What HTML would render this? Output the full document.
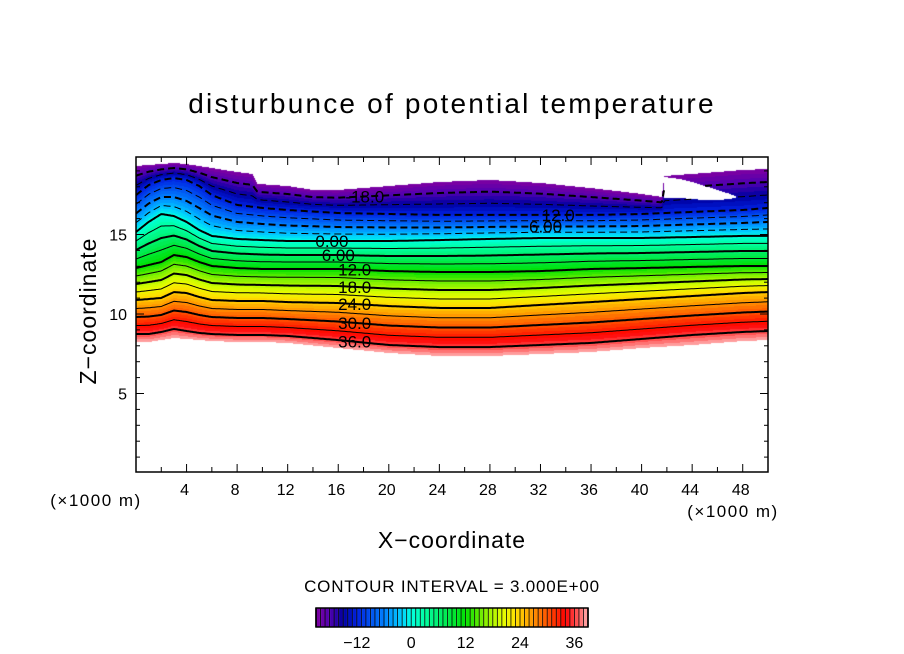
<!DOCTYPE html>
<html><head><meta charset="utf-8">
<style>
html,body{margin:0;padding:0;background:#fff;}
#wrap{position:relative;width:904px;height:654px;overflow:hidden;font-family:"Liberation Sans",sans-serif;}
canvas{position:absolute;left:0;top:0;}
svg{position:absolute;left:0;top:0;}
</style></head>
<body>
<div id="wrap">
<canvas id="fill" width="904" height="654"></canvas>
<svg id="svg" width="904" height="654"></svg>
</div>
<script>
// ---- data (x in km, z in km) ----
const xs = [0,1,2,3,4,5,6,8,10,12,16,20,24,28,32,36,40,44,48,50];
const levels = [39,36,24,12,0,-12];
const z39 = [8.24,8.24,8.36,8.49,8.43,8.36,8.30,8.24,8.24,8.18,7.86,7.55,7.36,7.36,7.48,7.61,7.86,8.05,8.30,8.36];
const z36 = [8.74,8.74,8.87,9.06,8.93,8.81,8.74,8.68,8.68,8.62,8.36,8.05,7.92,7.92,8.05,8.18,8.43,8.68,8.87,8.93];
const z24 = [10.88,10.94,11.01,11.38,11.32,11.07,10.88,10.82,10.82,10.75,10.69,10.50,10.38,10.38,10.57,10.75,10.94,11.13,11.32,11.38];
const z12 = [12.89,13.08,13.27,13.71,13.58,13.27,13.02,12.89,12.83,12.83,12.83,12.70,12.64,12.64,12.70,12.83,12.89,12.96,13.02,13.02];
const z0 = [15.16,15.79,16.29,16.16,15.79,15.28,14.91,14.72,14.65,14.59,14.59,14.59,14.65,14.72,14.78,14.78,14.78,14.84,14.91,14.91];
const zm12 = [17.48,18.11,18.43,18.55,18.43,18.05,17.48,16.86,16.67,16.54,16.35,16.29,16.23,16.23,16.23,16.23,16.29,16.42,16.54,16.67];
const topValue = -21;
const topXs = [0,1,2,3,4,5,6,8,9.2,9.6,12,14,16,20,24,28,32,36,40,41.6,41.8,44,46,48,50];
const topZ = [19.31,19.37,19.43,19.50,19.43,19.31,19.18,18.93,18.81,18.18,18.05,17.80,17.80,18.05,18.30,18.43,18.24,17.92,17.55,17.36,18.68,18.81,18.93,19.06,19.12];
const notchXs = [41.8,43,44,45,46,47,47.6];
const notchTop = [18.62,18.49,18.30,18.05,17.80,17.55,17.36];
const notchBot = [17.30,17.30,17.23,17.17,17.17,17.23,17.36];
const xTicks = [4,8,12,16,20,24,28,32,36,40,44,48];
const yTicks = [5,10,15];
const cbTicks = [-12,0,12,24,36];
const contourLabels = [[0,15.5,"0.00"],[6,16.0,"6.00"],[12,17.3,"12.0"],[18,17.3,"18.0"],[24,17.3,"24.0"],[30,17.3,"30.0"],[36,17.3,"36.0"],[-18,18.1,"-18.0"],[-12,33.4,"12.0"],[-6,32.4,"6.00"]];

// ---- axes ----
const PX0=136,PX1=768,PY0=157,PY1=472,XMAX=50;
const sx = x => PX0 + x*(PX1-PX0)/XMAX;
const sy = z => 473 - z*15.9;
const CB0=316,CB1=588,VMIN=-21,VMAX=39;
const cbx = v => CB0 + (v-VMIN)*(CB1-CB0)/(VMAX-VMIN);

function interp(arrX, arrY, x){
  if(x<=arrX[0]) return arrY[0];
  for(let i=1;i<arrX.length;i++){ if(x<=arrX[i]){ const t=(x-arrX[i-1])/(arrX[i]-arrX[i-1]); return arrY[i-1]+t*(arrY[i]-arrY[i-1]); } }
  return arrY[arrY.length-1];
}
const zArrs=[z39,z36,z24,z12,z0,zm12];
function column(x){
  const zs = zArrs.map(a=>interp(xs,a,x));
  const zt = interp(topXs,topZ,x);
  return {zs, zt, vals: levels.concat([topValue]), zall: zs.concat([zt])};
}
function inNotch(x,z){
  if(x<notchXs[0]||x>notchXs[notchXs.length-1]) return false;
  return z<interp(notchXs,notchTop,x) && z>interp(notchXs,notchBot,x);
}
function valueAt(col,z){
  const za=col.zall, va=col.vals;
  if(z<za[0]||z>za[za.length-1]) return null;
  for(let i=1;i<za.length;i++){ if(z<=za[i]){ const t=(z-za[i-1])/(za[i]-za[i-1]); return va[i-1]+t*(va[i]-va[i-1]); } }
  return null;
}
function zOf(col,v){
  const za=col.zall, va=col.vals;
  for(let i=1;i<za.length;i++){ if((v<=va[i-1]&&v>=va[i])){ const t=(va[i-1]-v)/(va[i-1]-va[i]); return za[i-1]+t*(za[i]-za[i-1]); } }
  return null;
}
const stops=[[-21,[128,0,160]],[-18,[80,0,176]],[-15,[0,0,160]],[-12,[0,32,224]],[-6,[0,128,255]],[-2,[0,208,255]],[0,[0,255,224]],[3,[0,255,160]],[6,[0,240,112]],[12,[0,224,0]],[16,[128,240,0]],[20,[224,255,0]],[23,[255,224,0]],[27,[255,144,0]],[31,[255,64,0]],[34,[255,0,0]],[37,[255,96,96]],[39,[255,176,176]]];
function color(v){
  v=Math.floor(v)+0.5; if(v<stops[0][0]) v=stops[0][0];
  for(let i=1;i<stops.length;i++){ if(v<=stops[i][0]){ const t=(v-stops[i-1][0])/(stops[i][0]-stops[i-1][0]); const a=stops[i-1][1],b=stops[i][1]; return [0,1,2].map(k=>Math.round(a[k]+t*(b[k]-a[k]))); } }
  return stops[stops.length-1][1];
}
// ---- fill ----
const ctx=document.getElementById('fill').getContext('2d');
const img=ctx.createImageData(PX1-PX0,PY1-PY0);
for(let px=0;px<PX1-PX0;px++){
  const x=(px+0.5)*XMAX/(PX1-PX0); const col=column(x);
  for(let py=0;py<PY1-PY0;py++){
    const z=(473-(PY0+py+0.5))/15.9;
    if(inNotch(x,z)) continue;
    const v=valueAt(col,z); if(v===null) continue;
    const c=color(v); const o=(py*(PX1-PX0)+px)*4;
    img.data[o]=c[0];img.data[o+1]=c[1];img.data[o+2]=c[2];img.data[o+3]=255;
  }
}
ctx.putImageData(img,PX0,PY0);
for(let v=VMIN; v<VMAX; v++){
  const c=color(v);
  ctx.fillStyle=`rgb(${c[0]},${c[1]},${c[2]})`;
  ctx.fillRect(cbx(v),608,cbx(v+1)-cbx(v),19);
}
// ---- svg ----
const NS='http://www.w3.org/2000/svg', svg=document.getElementById('svg');
function mk(tag,attrs,parent){const e=document.createElementNS(NS,tag);for(const k in attrs)e.setAttribute(k,attrs[k]);(parent||svg).appendChild(e);return e;}
const gC=mk('g',{});


for(let v=-18; v<=36; v+=3){
  let d='', pen=false;
  for(let px=0;px<=PX1-PX0;px+=1){
    const x=px*XMAX/(PX1-PX0); const col=column(x); const z=zOf(col,v);
    if(z===null||inNotch(x,z)){pen=false;continue;}
    d+=(pen?'L':'M')+(PX0+px)+','+sy(z).toFixed(1); pen=true;
  }
  const p=mk('path',{d:d,fill:'none',stroke:'#000','stroke-width':(v%6===0)?2:1},gC);
  if(v<0) p.setAttribute('stroke-dasharray','7 4');
  
  
}
contourLabels.forEach(l=>{
  const col=column(l[1]); const z=zOf(col,l[0]);
  const t=mk('text',{x:sx(l[1]),y:sy(z)+6,'font-size':17,'text-anchor':'middle',fill:'#000'});
  t.textContent=l[2];
  
  
});
const fr=mk('rect',{x:PX0,y:PY0,width:PX1-PX0,height:PY1-PY0,fill:'none',stroke:'#000','stroke-width':1.5});


for(let x=2;x<XMAX;x+=2){
  const len=(x%4===0)?8:5;
  mk('line',{x1:sx(x),x2:sx(x),y1:PY1,y2:PY1-len,stroke:'#000'});
  mk('line',{x1:sx(x),x2:sx(x),y1:PY0,y2:PY0+len,stroke:'#000'});
}
xTicks.forEach(x=>{const t=mk('text',{x:sx(x)-2,y:495,'font-size':16,'text-anchor':'middle'});t.textContent=x;

});
for(let z=1;z<20;z++){
  const len=(z%5===0)?8:4;
  mk('line',{x1:PX0,x2:PX0+len,y1:sy(z),y2:sy(z),stroke:'#000'});
  mk('line',{x1:PX1,x2:PX1-len,y1:sy(z),y2:sy(z),stroke:'#000'});
}
yTicks.forEach(z=>{const t=mk('text',{x:127,y:sy(z)+6,'font-size':16,'text-anchor':'end'});t.textContent=z;

});
for(let v=VMIN; v<=VMAX; v++){ mk('line',{x1:cbx(v),x2:cbx(v),y1:608,y2:627,stroke:'#000','stroke-width':(v===VMIN||v===VMAX)?1.5:0.8}); }
const cbr=mk('rect',{x:CB0,y:608,width:CB1-CB0,height:19,fill:'none',stroke:'#000','stroke-width':1.5});


cbTicks.forEach(v=>{const t=mk('text',{x:cbx(v),y:648,'font-size':16,'text-anchor':'middle'});t.textContent=(v<0?'\u2212'+(-v):v);

});
function txt(s,a,name){const t=mk('text',a);t.textContent=s;return t;}
txt('disturbunce of potential temperature',{x:452,y:113,'font-size':28,'text-anchor':'middle','letter-spacing':'2.2'},'chart-title');
txt('X\u2212coordinate',{x:452,y:548,'font-size':23,'text-anchor':'middle','letter-spacing':'1'},'x-axis-title');
txt('Z\u2212coordinate',{x:0,y:0,'font-size':23,'text-anchor':'middle','letter-spacing':'1',transform:'translate(96,311) rotate(-90)'},'y-axis-title');
txt('(\u00d71000 m)',{x:96,y:506,'font-size':17,'text-anchor':'middle','letter-spacing':'1.5'},'x-unit-left');
txt('(\u00d71000 m)',{x:733,y:517,'font-size':17,'text-anchor':'middle','letter-spacing':'1.5'},'x-unit-right');
txt('CONTOUR INTERVAL = 3.000E+00',{x:452,y:592,'font-size':17,'text-anchor':'middle','letter-spacing':'0.8'},'contour-interval-note');
</script>
</body></html>
